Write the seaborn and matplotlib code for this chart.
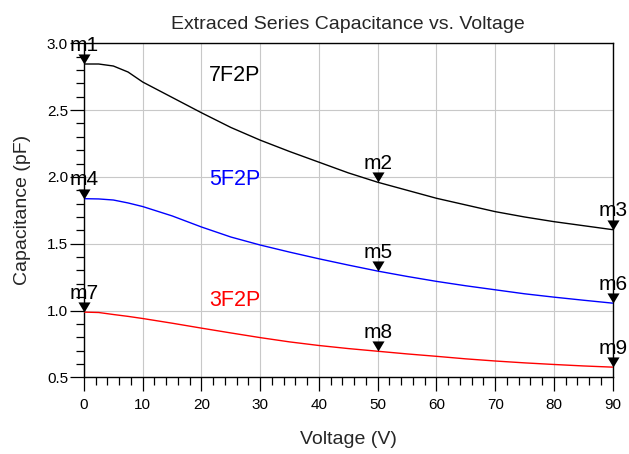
import matplotlib
matplotlib.use("Agg")
import matplotlib.pyplot as plt
from matplotlib.path import Path
from matplotlib.ticker import MultipleLocator, FormatStrFormatter
import pandas as pd
import seaborn as sns

# Bias voltage sweep (V)
voltage = [0, 2.5, 5, 7.5, 10, 15, 20, 25, 30, 35, 40, 45, 50,
           55, 60, 65, 70, 75, 80, 85, 90]

# Extracted series capacitance (pF) for each device
cap_7f2p = [2.845, 2.845, 2.830, 2.785, 2.710, 2.595, 2.480, 2.370, 2.275,
            2.190, 2.110, 2.030, 1.960, 1.900, 1.840, 1.790, 1.740, 1.700,
            1.665, 1.635, 1.605]
cap_5f2p = [1.837, 1.835, 1.827, 1.805, 1.778, 1.708, 1.625, 1.550, 1.490,
            1.437, 1.387, 1.340, 1.295, 1.255, 1.218, 1.185, 1.155, 1.125,
            1.100, 1.077, 1.055]
cap_3f2p = [0.988, 0.985, 0.970, 0.956, 0.940, 0.905, 0.868, 0.832, 0.797,
            0.765, 0.738, 0.715, 0.695, 0.675, 0.657, 0.638, 0.622, 0.608,
            0.596, 0.585, 0.576]

series_names = ["7F2P", "5F2P", "3F2P"]
series_colors = ["#000000", "#0000ff", "#ff0000"]
series_label_pos = [(21.3, 2.72), (21.3, 1.943), (21.3, 1.037)]

marker_voltages = [0, 50, 90]
marker_names = [["m1", "m2", "m3"], ["m4", "m5", "m6"], ["m7", "m8", "m9"]]

x_ticks = [0, 10, 20, 30, 40, 50, 60, 70, 80, 90]
y_ticks = [0.5, 1.0, 1.5, 2.0, 2.5, 3.0]

# Long-form table for seaborn
curves = [cap_7f2p, cap_5f2p, cap_3f2p]
df = pd.concat(
    [pd.DataFrame({"Voltage": voltage, "Capacitance": c, "Series": n})
     for n, c in zip(series_names, curves)],
    ignore_index=True,
)

marker_rows = []
for n, c, labels in zip(series_names, curves, marker_names):
    for v, lab in zip(marker_voltages, labels):
        marker_rows.append({"Voltage": v,
                            "Capacitance": c[voltage.index(v)],
                            "Series": n, "Name": lab})
mk = pd.DataFrame(marker_rows)

sns.set_style("white")
plt.rcParams["font.family"] = ["Liberation Sans", "DejaVu Sans"]

fig = plt.figure(figsize=(6.29, 4.54), dpi=100)
ax = fig.add_axes([84 / 629, 1 - 377.3 / 454, 528.7 / 629, 334 / 454])

sns.lineplot(data=df, x="Voltage", y="Capacitance", hue="Series",
             palette=dict(zip(series_names, series_colors)),
             hue_order=series_names, sort=False, legend=False,
             linewidth=1.0, ax=ax, zorder=3)

# Downward triangle whose tip sits on the data point
tri = Path([(-0.6, 1.0), (0.6, 1.0), (0.0, 0.0), (-0.6, 1.0)],
           [Path.MOVETO, Path.LINETO, Path.LINETO, Path.CLOSEPOLY])
sns.scatterplot(data=mk, x="Voltage", y="Capacitance", marker=tri, s=210,
                color="black", edgecolor="black", linewidth=0,
                clip_on=False, zorder=5, legend=False, ax=ax)

for _, r in mk.iterrows():
    ax.annotate(r["Name"], (r["Voltage"], r["Capacitance"]),
                xytext=(0, 9.5), textcoords="offset points",
                ha="center", va="baseline", fontsize=15, color="black",
                zorder=6, annotation_clip=False)

for n, col, (lx, ly) in zip(series_names, series_colors, series_label_pos):
    ax.text(lx, ly, n, color=col, fontsize=15.5, ha="left", va="baseline")

ax.set_xlim(0, 90)
ax.set_ylim(0.5, 3.0)
ax.set_xticks(x_ticks)
ax.set_yticks(y_ticks)
ax.xaxis.set_minor_locator(MultipleLocator(2))
ax.yaxis.set_minor_locator(MultipleLocator(0.1))
ax.yaxis.set_major_formatter(FormatStrFormatter("%.1f"))

ax.grid(True, which="major", color="#c8c8c8", linewidth=0.8, zorder=0)
ax.set_axisbelow(True)
for s in ax.spines.values():
    s.set_color("black")
    s.set_linewidth(1.0)
    s.set_visible(True)

ax.tick_params(axis="both", which="both", bottom=True, left=True,
               top=False, right=False)
ax.tick_params(axis="both", which="major", direction="out", length=10,
               width=0.9, color="black", labelsize=11, labelcolor="black")
ax.tick_params(axis="both", which="minor", direction="out", length=6,
               width=0.9, color="black")
ax.tick_params(axis="x", which="major", pad=5)
ax.tick_params(axis="y", which="major", pad=1.5)

ax.set_xlabel("Voltage (V)", fontsize=14, va="baseline")
ax.xaxis.set_label_coords(0.5, -0.2)
ax.set_ylabel("Capacitance (pF)", fontsize=14, va="baseline")
ax.yaxis.set_label_coords(-0.108, 0.5)
ax.set_title("Extraced Series Capacitance vs. Voltage", fontsize=14, pad=10)

fig.savefig("out.png", dpi=100)
